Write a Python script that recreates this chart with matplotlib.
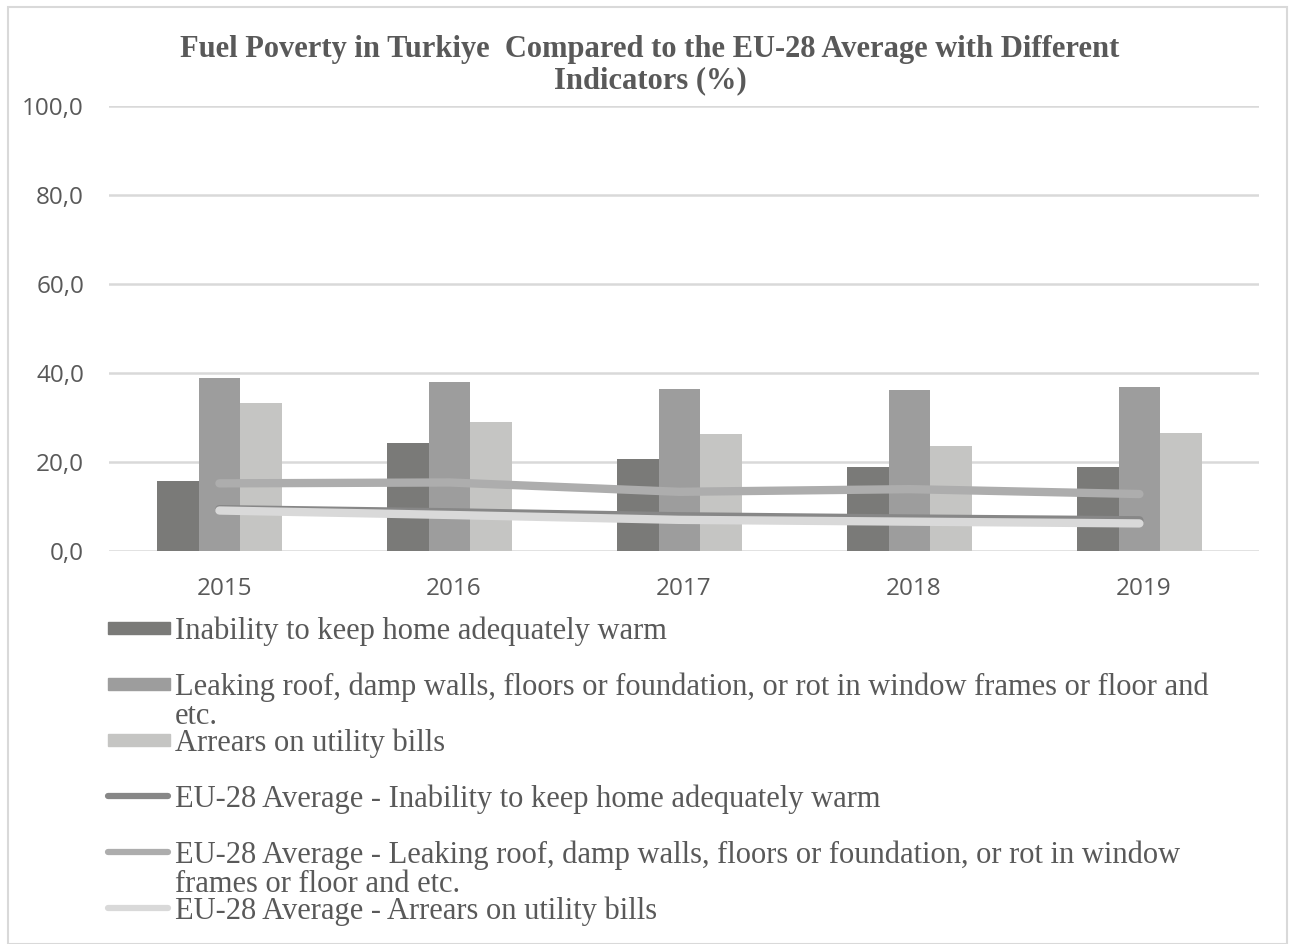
import matplotlib.pyplot as plt
import numpy as np
from matplotlib.patches import Rectangle
from matplotlib.lines import Line2D
from matplotlib.ticker import FuncFormatter

years = ['2015', '2016', '2017', '2018', '2019']
tr_warm = [15.8, 24.2, 20.6, 18.9, 18.9]
tr_leak = [38.9, 38.0, 36.5, 36.2, 36.8]
tr_arrears = [33.3, 29.0, 26.3, 23.6, 26.6]
eu_warm = [9.4, 8.7, 7.8, 7.3, 6.9]
eu_leak = [15.2, 15.4, 13.3, 13.9, 12.8]
eu_arrears = [9.1, 8.1, 7.0, 6.6, 6.2]

labels = [
    'Inability to keep home adequately warm',
    'Leaking roof, damp walls, floors or foundation, or rot in window frames or floor and\netc.',
    'Arrears on utility bills',
    'EU-28 Average - Inability to keep home adequately warm',
    'EU-28 Average - Leaking roof, damp walls, floors or foundation, or rot in window\nframes or floor and etc.',
    'EU-28 Average - Arrears on utility bills',
]

bar_colors = ['#7a7a78', '#9d9d9d', '#c5c5c3']
line_colors = ['#878787', '#adadad', '#d9d9d9']
txt = '#595959'
serif = ['Liberation Serif', 'DejaVu Serif']
sans = ['Open Sans', 'DejaVu Sans']

fig = plt.figure(figsize=(12.9, 9.44), dpi=100)
ax = fig.add_axes([109 / 1290, 1 - 551 / 944, 1150 / 1290, 445 / 944])

x = np.arange(len(years))
w = 0.18
for i, vals in enumerate([tr_warm, tr_leak, tr_arrears]):
    ax.bar(x + (i - 1) * w - 0.02, vals, w, color=bar_colors[i], zorder=2)
for i, vals in enumerate([eu_warm, eu_leak, eu_arrears]):
    ax.plot(x - 0.02, vals, color=line_colors[i], lw=6, solid_capstyle='round', zorder=3 + i)

ax.set_xlim(-0.5, 4.5)
ax.set_ylim(0, 100)
ax.set_yticks(np.arange(0, 101, 20))
ax.yaxis.set_major_formatter(FuncFormatter(lambda v, p: f'{v:.1f}'.replace('.', ',')))
ax.set_xticks(x)
ax.set_xticklabels(years)
ax.grid(axis='y', color='#d9d9d9', lw=1.8, zorder=0)
ax.set_axisbelow(True)
for s in ax.spines.values():
    s.set_visible(False)
ax.tick_params(length=0, labelsize=17.5, labelcolor=txt)
ax.tick_params(axis='x', pad=19)
ax.tick_params(axis='y', pad=18)
for t in ax.get_xticklabels() + ax.get_yticklabels():
    t.set_family(sans)

# two-line title
fig.text(650 / 1290, 1 - 35 / 944, 'Fuel Poverty in Turkiye  Compared to the EU-28 Average with Different\nIndicators (%)',
         ha='center', va='top', fontsize=22, fontweight='bold', color=txt, family=serif,
         linespacing=1.1)

# frame around the chart
fig.patches.append(Rectangle((8 / 1290, 0), 1279 / 1290, 1 - 7 / 944, transform=fig.transFigure,
                             fill=False, edgecolor='#d9d9d9', lw=1.5))

# legend, one slot of 56 px per entry
for k, lab in enumerate(labels):
    yc = 628 + 56 * k
    yf = 1 - yc / 944
    if k < 3:
        fig.patches.append(Rectangle((108 / 1290, 1 - (yc + 6) / 944), 62 / 1290, 12 / 944,
                                     transform=fig.transFigure, color=bar_colors[k]))
    else:
        fig.lines.append(Line2D([108 / 1290, 168 / 1290], [yf, yf], transform=fig.transFigure,
                                color=line_colors[k - 3], lw=4.5, solid_capstyle='round'))
    fig.text(175 / 1290, 1 - (yc - 12) / 944, lab, ha='left', va='top', fontsize=22,
             color=txt, family=serif, linespacing=1.02)

fig.savefig('out.png', dpi=100)
